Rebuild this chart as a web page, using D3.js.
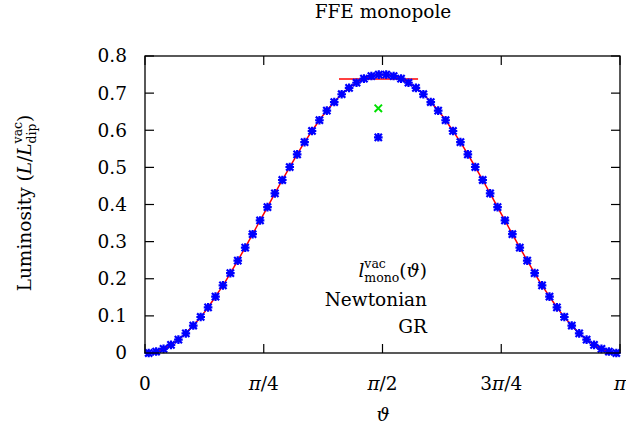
<!DOCTYPE html>
<html><head><meta charset="utf-8">
<script src="https://cdn.jsdelivr.net/npm/d3@7"></script>
<style>body{margin:0;background:#fff} text{font-family:"DejaVu Serif",serif;fill:#000}</style>
</head><body><svg id="c" width="626" height="438"></svg>
<script>
// ---- data ----
const theta = [0.0245,0.0736,0.1227,0.1718,0.2209,0.2700,0.3191,0.3682,0.4172,0.4663,0.5154,0.5645,0.6136,0.6627,0.7118,0.7609,
0.8099,0.8590,0.9081,0.9572,1.0063,1.0554,1.1045,1.1536,1.2026,1.2517,1.3008,1.3499,1.3990,1.4481,1.4972,1.5463,
1.5953,1.6444,1.6935,1.7426,1.7917,1.8408,1.8899,1.9390,1.9880,2.0371,2.0862,2.1353,2.1844,2.2335,2.2826,2.3317,
2.3807,2.4298,2.4789,2.5280,2.5771,2.6262,2.6753,2.7244,2.7734,2.8225,2.8716,2.9207,2.9698,3.0189,3.0680,3.1171];
const grLum = [0.000,0.004,0.011,0.022,0.036,0.053,0.074,0.097,0.123,0.152,0.182,0.215,0.249,0.284,0.320,0.357,
0.393,0.430,0.466,0.501,0.535,0.568,0.598,0.627,0.653,0.676,0.697,0.714,0.728,0.739,0.746,0.750,
0.750,0.746,0.739,0.728,0.714,0.697,0.676,0.653,0.627,0.598,0.568,0.535,0.501,0.466,0.430,0.393,
0.357,0.320,0.284,0.249,0.215,0.182,0.152,0.123,0.097,0.074,0.053,0.036,0.022,0.011,0.004,0.000];
const vacTheta = [0,0.0245,0.0736,0.1227,0.1718,0.2209,0.2700,0.3191,0.3682,0.4172,0.4663,0.5154,0.5645,0.6136,0.6627,0.7118,0.7609,
0.8099,0.8590,0.9081,0.9572,1.0063,1.0554,1.1045,1.1536,1.2026,1.2517,1.3008,1.3499,1.3990,1.4481,1.4972,1.5463,
1.5953,1.6444,1.6935,1.7426,1.7917,1.8408,1.8899,1.9390,1.9880,2.0371,2.0862,2.1353,2.1844,2.2335,2.2826,2.3317,
2.3807,2.4298,2.4789,2.5280,2.5771,2.6262,2.6753,2.7244,2.7734,2.8225,2.8716,2.9207,2.9698,3.0189,3.0680,3.1171,3.1416];
const vacLum = [0,0.000,0.004,0.011,0.022,0.036,0.053,0.074,0.097,0.123,0.152,0.182,0.215,0.249,0.284,0.320,0.357,
0.393,0.430,0.466,0.501,0.535,0.568,0.598,0.627,0.653,0.676,0.697,0.714,0.728,0.739,0.746,0.750,
0.750,0.746,0.739,0.728,0.714,0.697,0.676,0.653,0.627,0.598,0.568,0.535,0.501,0.466,0.430,0.393,
0.357,0.320,0.284,0.249,0.215,0.182,0.152,0.123,0.097,0.074,0.053,0.036,0.022,0.011,0.004,0.000,0];
const flatTheta = [1.283, 1.806];
const flatLum = [0.738, 0.738];
const newtTheta = [1.543];
const newtLum = [0.659];
const grMonoTheta = [1.543];
const grMonoLum = [0.581];
const xTicks = [0, Math.PI/4, Math.PI/2, 3*Math.PI/4, Math.PI];
const xTickLabels = [["0",""],["π","/4"],["π","/2"],["3π","/4"],["π",""]];
const yTicks = [0,0.1,0.2,0.3,0.4,0.5,0.6,0.7,0.8];
const yTickLabels = ["0","0.1","0.2","0.3","0.4","0.5","0.6","0.7","0.8"];

// ---- layout ----
const L=145, R=620, T=56, B=353, FS=18.5;
const svg = d3.select("#c");
const x = d3.scaleLinear().domain([0,Math.PI]).range([L,R]);
const y = d3.scaleLinear().domain([0,0.8]).range([B,T]);

// ticks (inward, mirrored)
const tl = 9;
const ax = svg.append("g").attr("stroke","#000").attr("stroke-width",1.2);
xTicks.forEach(v=>{
  ax.append("line").attr("x1",x(v)).attr("x2",x(v)).attr("y1",B).attr("y2",B-tl);
  ax.append("line").attr("x1",x(v)).attr("x2",x(v)).attr("y1",T).attr("y2",T+tl);
});
yTicks.forEach(v=>{
  ax.append("line").attr("x1",L).attr("x2",L+tl).attr("y1",y(v)).attr("y2",y(v));
  ax.append("line").attr("x1",R).attr("x2",R-tl).attr("y1",y(v)).attr("y2",y(v));
});

// tick labels
yTicks.forEach((v,i)=>{
  svg.append("text").attr("x",L-18).attr("y",y(v)).attr("dy","0.35em")
    .attr("text-anchor","end").attr("font-size",FS).text(yTickLabels[i]);
});
xTicks.forEach((v,i)=>{
  const t = svg.append("text").attr("x",x(v)).attr("y",390).attr("text-anchor","middle").attr("font-size",FS);
  const lab = xTickLabels[i];
  if (lab[0].startsWith("3")) { t.append("tspan").text("3"); t.append("tspan").attr("font-style","italic").text("π"); }
  else if (lab[0]==="π") t.append("tspan").attr("font-style","italic").text("π");
  else t.append("tspan").text(lab[0]);
  if (lab[1]) t.append("tspan").text(lab[1]);
});

// data lines
const line = d3.line().x((d)=>x(d[0])).y(d=>y(d[1])).curve(d3.curveMonotoneX);
const plot = svg.append("g");
plot.append("path").datum(vacTheta.map((t,i)=>[t,vacLum[i]])).attr("d",line)
  .attr("fill","none").attr("stroke","#ff0000").attr("stroke-width",1.5);
plot.append("path").datum(flatTheta.map((t,i)=>[t,flatLum[i]])).attr("d",d3.line().x(d=>x(d[0])).y(d=>y(d[1])))
  .attr("fill","none").attr("stroke","#ff0000").attr("stroke-width",1.5);

function star(g, px, py, s, col){
  g.append("path").attr("d",`M${px-s},${py-s}L${px+s},${py+s}M${px-s},${py+s}L${px+s},${py-s}M${px},${py-s*1.2}L${px},${py+s*1.2}M${px-s*1.2},${py}L${px+s*1.2},${py}`)
   .attr("stroke",col).attr("stroke-width",2.2).attr("fill","none");
}
function cross(g, px, py, s, col){
  g.append("path").attr("d",`M${px-s},${py-s}L${px+s},${py+s}M${px-s},${py+s}L${px+s},${py-s}`)
   .attr("stroke",col).attr("stroke-width",2).attr("fill","none");
}
newtTheta.forEach((t,i)=>cross(plot, x(t), y(newtLum[i]), 3.7, "#00e000"));
theta.forEach((t,i)=>star(plot, x(t), y(grLum[i]), 3.6, "#0000ff"));
grMonoTheta.forEach((t,i)=>star(plot, x(t), y(grMonoLum[i]), 3.6, "#0000ff"));

// frame
svg.append("rect").attr("x",L).attr("y",T).attr("width",R-L).attr("height",B-T)
  .attr("fill","none").attr("stroke","#000").attr("stroke-width",1.3);

// title
svg.append("text").attr("x",383).attr("y",18).attr("text-anchor","middle").attr("font-size",FS).text("FFE monopole");
// x label
svg.append("text").attr("x",383).attr("y",421).attr("text-anchor","middle").attr("font-size",FS).attr("font-style","italic").text("ϑ");

// helper for sup/sub stack
function supsub(t, sup, sub, fs){
  const a = t.append("tspan").attr("font-size",fs).attr("dy",-9).text(sup);
  const wa = a.node().getComputedTextLength();
  const b = t.append("tspan").attr("font-size",fs).attr("dx",-wa).attr("dy",14).text(sub);
  const wb = b.node().getComputedTextLength();
  return {wa, wb};
}
// y label
const yl = svg.append("text").attr("transform","translate(31,203) rotate(-90)").attr("text-anchor","middle").attr("font-size",FS);
yl.append("tspan").text("Luminosity (");
yl.append("tspan").attr("font-style","italic").text("L");
yl.append("tspan").text("/");
yl.append("tspan").attr("font-style","italic").text("L");
const w1 = supsub(yl, "vac", "dip", 12.5);
yl.append("tspan").attr("dx", Math.max(0,w1.wa-w1.wb)).attr("dy",-5).text(")");

// legend
const lx = 427;
const l1 = svg.append("text").attr("x",lx).attr("y",277).attr("text-anchor","end").attr("font-size",FS);
l1.append("tspan").attr("font-style","italic").text("l");
const w2 = supsub(l1, "vac", "mono", 12.5);
l1.append("tspan").attr("dx", Math.max(0,w2.wa-w2.wb)).attr("dy",-5).text("(");
l1.append("tspan").attr("font-style","italic").text("ϑ");
l1.append("tspan").text(")");
svg.append("text").attr("x",lx).attr("y",306).attr("text-anchor","end").attr("font-size",FS).text("Newtonian");
svg.append("text").attr("x",lx).attr("y",333).attr("text-anchor","end").attr("font-size",FS).text("GR");
</script></body></html>
